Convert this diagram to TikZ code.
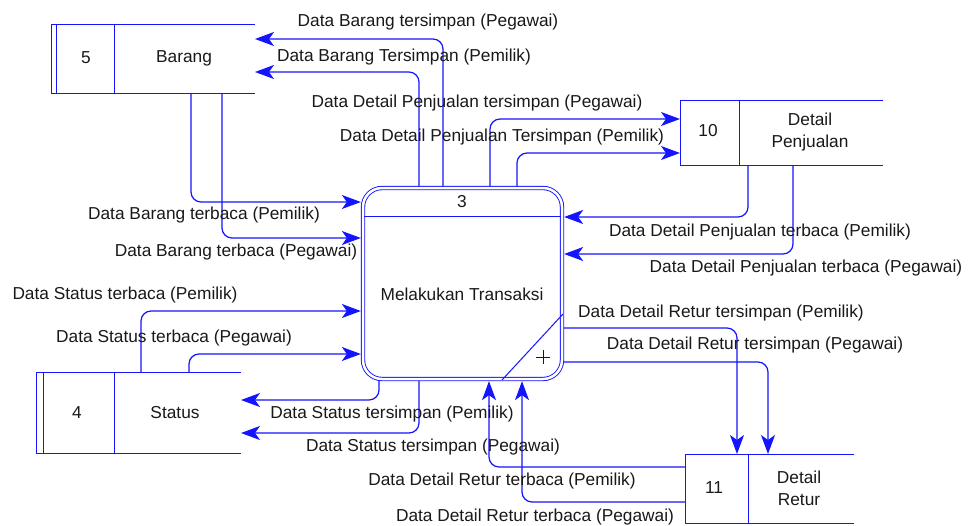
\documentclass[tikz,border=0pt]{standalone}
\usepackage{fontspec}
\setmainfont{Liberation Sans}
\usetikzlibrary{arrows.meta}
\definecolor{dfd}{RGB}{20,20,255}
\definecolor{ink}{RGB}{25,25,25}

\begin{document}
\begin{tikzpicture}[x=1pt,y=-1pt,
  every node/.style={font=\fontsize{17.3}{22}\selectfont, text=ink, inner sep=0pt},
  flow/.style={draw=dfd, line width=1.2pt, rounded corners=10pt,
    -{Stealth[length=19pt,width=14pt,inset=5pt]}},
  edge/.style={draw=dfd, line width=1pt},
  store/.style={inner sep=0pt, outer sep=0pt, draw=none},
]
\fill[white] (0,0) rectangle (969,525);
\useasboundingbox (0,0) rectangle (969,525);

% ---- process 3 ----
\node[draw=dfd, line width=0.9pt, double=white, double distance=2.5pt,
      rounded corners=19pt, minimum width=199pt, minimum height=191pt,
      outer sep=2.15pt] (proc) at (462.5,283.5) {};
\draw[edge] (364.4,216) -- (560.6,216);
\draw[edge] (563,314) -- (502,380);
\node (pnum) at (462,202) {3};
\node (pname) at (462,294) {Melakukan Transaksi};
\draw[ink, line width=0.9pt] (536,357) -- (550,357) (543,350) -- (543,364);

% ---- data store 5: Barang ----
\node[store, minimum width=204pt, minimum height=69pt] (barang) at (153,58.5) {};
\draw[edge] (barang.north east) -- (barang.north west) -- (barang.south west) -- (barang.south east);
\draw[edge] ([xshift=5pt]barang.north west) -- ([xshift=5pt]barang.south west);
\draw[edge] (barang.north -| 114,0) -- (barang.south -| 114,0);
\node (barangid) at (86,58) {5};
\node (barangname) at (184,58) {Barang};

% ---- data store 4: Status ----
\node[store, minimum width=205pt, minimum height=81pt] (status) at (138.5,412.5) {};
\draw[edge] (status.north east) -- (status.north west) -- (status.south west) -- (status.south east);
\draw[edge] ([xshift=7pt]status.north west) -- ([xshift=7pt]status.south west);
\draw[edge] (status.north -| 114,0) -- (status.south -| 114,0);
\node (statusid) at (77,413) {4};
\node (statusname) at (175,413) {Status};

% ---- data store 10: Detail Penjualan ----
\node[store, minimum width=203pt, minimum height=65pt] (dpj) at (781.5,132.5) {};
\draw[edge] (dpj.north east) -- (dpj.north west) -- (dpj.south west) -- (dpj.south east);
\draw[edge] (dpj.north -| 739,0) -- (dpj.south -| 739,0);
\node (dpjid) at (708,131) {10};
\node[align=center] (dpjname) at (810,132) {Detail\\Penjualan};

% ---- data store 11: Detail Retur ----
\node[store, minimum width=169pt, minimum height=69pt] (retur) at (769.5,488.5) {};
\draw[edge] (retur.north east) -- (retur.north west) -- (retur.south west) -- (retur.south east);
\draw[edge] (retur.north -| 748,0) -- (retur.south -| 748,0);
\node (returid) at (714,488) {11};
\node[align=center] (returname) at (799,488) {Detail\\Retur};

% ---- flows: Barang ----
\draw[flow] (proc.north -| 443,0) |- (barang.east |- 0,39);
\draw[flow] (proc.north -| 419,0) |- (barang.east |- 0,72);
\draw[flow] (barang.south -| 191,0) |- (proc.west |- 0,202);
\draw[flow] (barang.south -| 222,0) |- (proc.west |- 0,238);

% ---- flows: Detail Penjualan ----
\draw[flow] (proc.north -| 490,0) |- (dpj.west |- 0,119);
\draw[flow] (proc.north -| 517,0) |- (dpj.west |- 0,153);
\draw[flow] (dpj.south -| 748,0) |- (proc.east |- 0,217);
\draw[flow] (dpj.south -| 793,0) |- (proc.east |- 0,254);

% ---- flows: Status ----
\draw[flow] (status.north -| 141,0) |- (proc.west |- 0,311);
\draw[flow] (status.north -| 189,0) |- (proc.west |- 0,354);
\draw[flow] (proc.south -| 379,0) |- (status.east |- 0,400);
\draw[flow] (proc.south -| 419,0) |- (status.east |- 0,433);

% ---- flows: Detail Retur ----
\draw[flow] (proc.east |- 0,328) -| (retur.north -| 737,0);
\draw[flow] (proc.east |- 0,362) -| (retur.north -| 768,0);
\draw[flow] (retur.west |- 0,467) -| (proc.south -| 489,0);
\draw[flow] (retur.west |- 0,502) -| (proc.south -| 522,0);

% ---- flow labels ----
\node (l1) at (428,22) {Data Barang tersimpan (Pegawai)};
\node (l2) at (404,57) {Data Barang Tersimpan (Pemilik)};
\node (l3) at (477,103) {Data Detail Penjualan tersimpan (Pegawai)};
\node (l4) at (502,137) {Data Detail Penjualan Tersimpan (Pemilik)};
\node (l5) at (204,215) {Data Barang terbaca (Pemilik)};
\node (l6) at (236,252) {Data Barang terbaca (Pegawai)};
\node (l7) at (760,232) {Data Detail Penjualan terbaca (Pemilik)};
\node (l8) at (806,268) {Data Detail Penjualan terbaca (Pegawai)};
\node (l9) at (125,295) {Data Status terbaca (Pemilik)};
\node (l10) at (174,338) {Data Status terbaca (Pegawai)};
\node (l11) at (721,313) {Data Detail Retur tersimpan (Pemilik)};
\node (l12) at (755,345) {Data Detail Retur tersimpan (Pegawai)};
\node (l13) at (392,414) {Data Status tersimpan (Pemilik)};
\node (l14) at (433,447) {Data Status tersimpan (Pegawai)};
\node (l15) at (502,481) {Data Detail Retur terbaca (Pemilik)};
\node (l16) at (535,517) {Data Detail Retur terbaca (Pegawai)};
\end{tikzpicture}
\end{document}
